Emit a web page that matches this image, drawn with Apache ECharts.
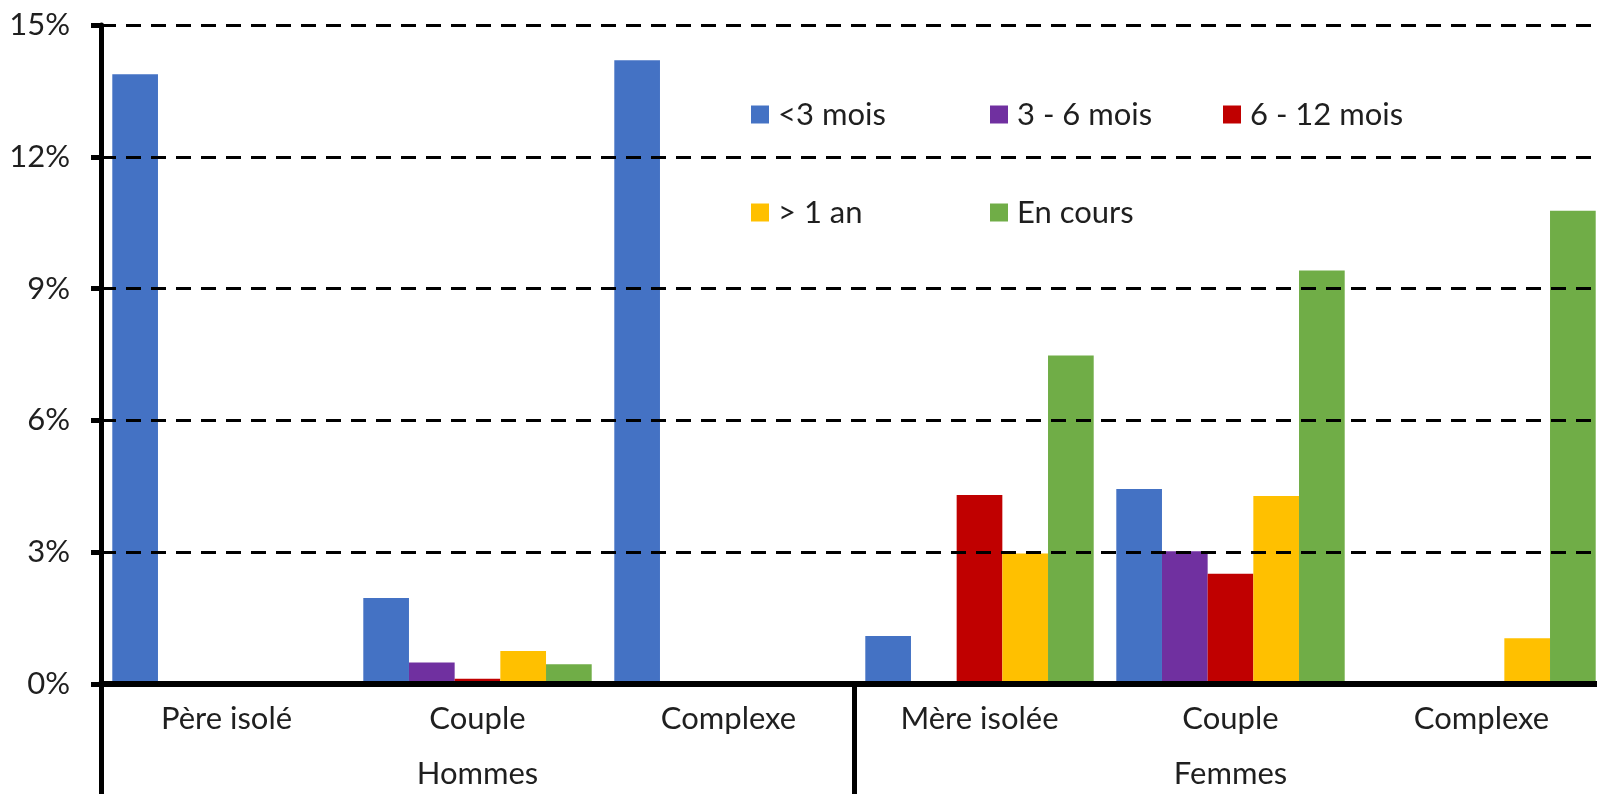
<!DOCTYPE html>
<html>
<head>
<meta charset="utf-8">
<script src="https://cdn.jsdelivr.net/npm/echarts@6/dist/echarts.min.js"></script>
<style>
  html, body { margin: 0; padding: 0; background: #fff; }
  #chart { width: 1597px; height: 794px; }
</style>
</head>
<body>
<div id="chart"></div>
<script>
// Household type (within each sex group) and the sex groups
const categories = ['Père isolé', 'Couple', 'Complexe', 'Mère isolée', 'Couple', 'Complexe'];
const groups = ['Hommes', 'Femmes'];

// Share (%) by duration
const seriesNames = ['<3 mois', '3 - 6 mois', '6 - 12 mois', '> 1 an', 'En cours'];
const lessThan3 = [13.88, 1.96, 14.2, 1.09, 4.44, 0];
const from3to6 = [0, 0.49, 0, 0, 3.02, 0];
const from6to12 = [0, 0.12, 0, 4.30, 2.51, 0];
const overOneYear = [0, 0.75, 0, 2.97, 4.28, 1.04];
const ongoing = [0, 0.45, 0, 7.48, 9.41, 10.77];

// Value axis ticks
const yMin = 0, yMax = 15, yStep = 3;

const colors = ['#4472C4', '#7030A0', '#C00000', '#FFC000', '#70AD47'];
const values = [lessThan3, from3to6, from6to12, overOneYear, ongoing];

const FONT = 'Lato';
const TEXT = '#1f1f1f';
const FS = 31;

const chart = echarts.init(document.getElementById('chart'), null, { renderer: 'canvas' });

const legendPos = [
  { left: 751, top: 99 },
  { left: 990, top: 99 },
  { left: 1223, top: 99 },
  { left: 751, top: 197 },
  { left: 990, top: 197 }
];

const option = {
  animation: false,
  textStyle: { fontFamily: FONT, color: TEXT },
  // plot area runs slightly past the right edge of the canvas
  grid: {
    left: 101, top: 25, width: 1506, bottom: 110,
    containLabel: false,
    outerBoundsMode: 'none'
  },
  legend: seriesNames.map((n, i) => ({
    data: [n],
    left: legendPos[i].left,
    top: legendPos[i].top,
    padding: 0,
    icon: 'rect',
    itemWidth: 18,
    itemHeight: 18,
    selectedMode: false,
    textStyle: { fontFamily: FONT, fontSize: FS, color: TEXT, padding: [0, 0, 0, 4] }
  })),
  xAxis: [
    {
      type: 'category',
      data: categories,
      position: 'bottom',
      z: 5,
      axisLine: { show: true, lineStyle: { color: '#000', width: 6 } },
      axisTick: { show: false },
      axisLabel: { fontFamily: FONT, fontSize: FS, color: TEXT, margin: 19, interval: 0 },
      splitLine: { show: false }
    },
    {
      type: 'category',
      data: groups,
      position: 'bottom',
      z: 5,
      axisLine: { show: false },
      axisTick: { show: true, length: 112, lineStyle: { color: '#000', width: 5 } },
      axisLabel: { fontFamily: FONT, fontSize: FS, color: TEXT, margin: 74, interval: 0 },
      splitLine: { show: false }
    }
  ],
  yAxis: {
    type: 'value',
    min: yMin,
    max: yMax,
    interval: yStep,
    z: 5,
    axisLine: { show: true, lineStyle: { color: '#000', width: 5 } },
    axisTick: { show: true, inside: false, length: 10, lineStyle: { color: '#000', width: 5 } },
    axisLabel: {
      fontFamily: FONT, fontSize: FS, color: TEXT, margin: 31,
      formatter: v => v + '%'
    },
    splitLine: {
      show: true,
      lineStyle: { color: '#000', width: 3, type: [15, 10], cap: 'butt' }
    }
  },
  series: seriesNames.map((n, i) => ({
    name: n,
    type: 'bar',
    xAxisIndex: 0,
    data: values[i],
    barGap: '0%',
    barCategoryGap: '9%',
    itemStyle: { color: colors[i] }
  }))
};

chart.setOption(option);
</script>
</body>
</html>
